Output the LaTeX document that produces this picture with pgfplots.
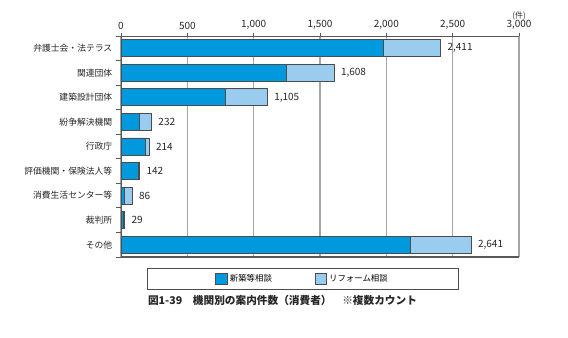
\documentclass[border=0pt]{standalone}
\usepackage{fontspec}
\setmainfont{Noto Sans CJK JP}
\usepackage{pgfplots}
\usepackage{pgfplotstable}
\pgfplotsset{compat=1.18}
\definecolor{dblue}{RGB}{0,153,221}
\definecolor{lblue}{RGB}{153,204,238}
\pgfplotstableread{
c new ref total
0 1980 431 2411
1 1245 363 1608
2 785 320 1105
3 136 96 232
4 181 33 214
5 131 11 142
6 23 63 86
7 20 9 29
8 2185 456 2641
}\datatab
\begin{document}
\begin{tikzpicture}
\path[use as bounding box] (0pt,0pt) rectangle (426pt,-253.5pt);
\begin{axis}[
  at={(90.75pt,-27pt)}, anchor=north west,
  scale only axis, width=298.5pt, height=165.75pt,
  xbar stacked, bar width=12.75pt,
  xmin=0, xmax=3000, xtick={0,500,...,3000},
  ymin=-0.5, ymax=8.5, y dir=reverse,
  ytick={0,...,8},
  yticklabels={弁護士会・法テラス,関連団体,建築設計団体,紛争解決機関,行政庁,評価機関・保険法人等,消費生活センター等,裁判所,その他},
  minor ytick={-0.5,0.5,...,8.5},
  major tick length=2.5pt, minor tick length=3.5pt,
  tick align=outside,
  xticklabel pos=upper,
  xmajorgrids, grid style={gray!70, line width=0.8pt},
  axis x line*=top, axis y line*=left,
  axis line style={gray!70!black, line width=0.6pt},
  every tick/.style={gray!70!black, line width=0.6pt},
  ytick style={draw=none},
  minor y tick style={draw=gray!70!black, line width=0.6pt},
  tick label style={font=\fontsize{7.5}{9}\selectfont, text=black!85},
  yticklabel style={font=\fontsize{6.6}{8}\selectfont, text=black!85, xshift=-0.5pt},
  /pgf/number format/assume math mode=true,
  /pgf/number format/1000 sep={,},
  xticklabel style={yshift=-1pt},
  legend style={at={(0.457,-0.05)}, anchor=north, draw=black!70, line width=0.5pt,
    font=\fontsize{6.3}{7}\selectfont, legend columns=2,
    inner xsep=51pt, inner ysep=2.5pt,
    /tikz/every even column/.append style={column sep=30pt}},
  legend image code/.code={\draw[#1, draw=black!70, line width=0.4pt] (0pt,-4.2pt) rectangle (8.5pt,4.2pt);},
  clip=false,
]
\addplot[fill=dblue, draw=black!70, line width=0.6pt] table[x=new, y=c] {\datatab};
\addplot[fill=lblue, draw=black!70, line width=0.6pt] table[x=ref, y=c] {\datatab};
\legend{新築等相談, リフォーム相談}
\draw[gray!70!black, line width=0.8pt] (rel axis cs:0,0) -- (rel axis cs:1,0);
\node[font=\fontsize{6}{7}\selectfont, text=black!80, anchor=south] at (rel axis cs:1,1.05) {(件)};
\end{axis}
\begin{axis}[
  at={(90.75pt,-27pt)}, anchor=north west,
  scale only axis, width=298.5pt, height=165.75pt,
  xmin=0, xmax=3000, ymin=-0.5, ymax=8.5, y dir=reverse,
  hide axis, clip=false,
]
\addplot[draw=none, mark=none, point meta=explicit, nodes near coords,
  nodes near coords style={anchor=west, xshift=1.5pt, font=\fontsize{7.5}{9}\selectfont, text=black!85, /pgf/number format/assume math mode=true, /pgf/number format/1000 sep={,}}]
  table[x=total, y=c, meta=total] {\datatab};
\end{axis}
\node[anchor=west, font=\fontsize{8}{9}\selectfont\bfseries, text=black!85] at (107.5pt,-225pt) {図1-39\quad 機関別の案内件数（消費者）\quad ※複数カウント};
\end{tikzpicture}
\end{document}
